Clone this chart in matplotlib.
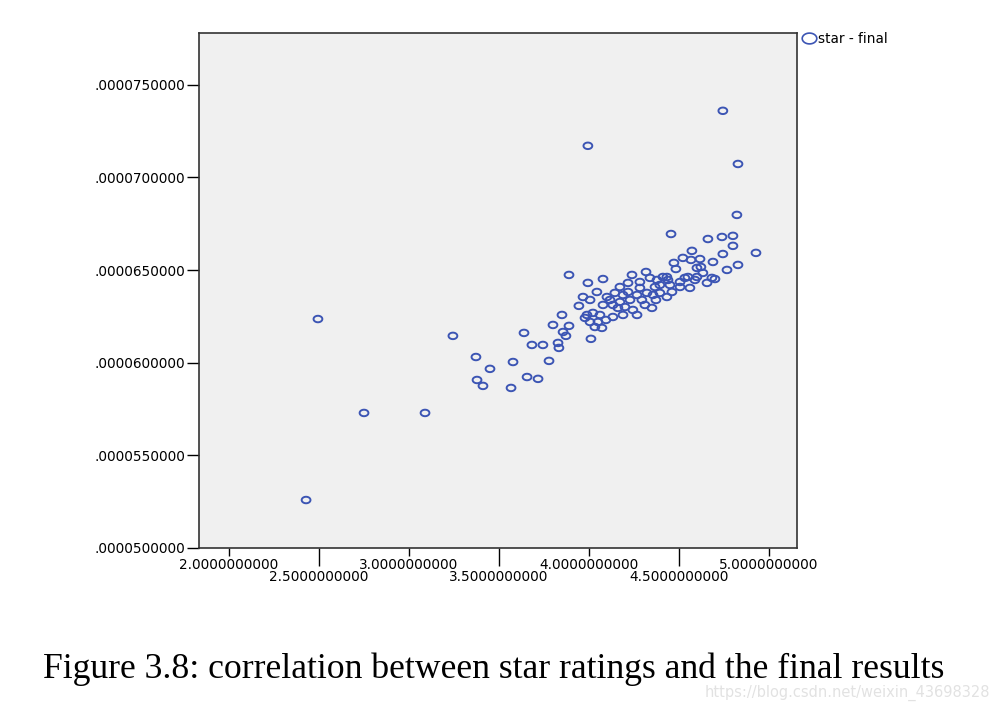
import numpy as np
import matplotlib.pyplot as plt
from matplotlib.path import Path
from matplotlib.ticker import FixedLocator, FuncFormatter
from matplotlib.lines import Line2D

# star rating vs final result
star = [2.428, 2.494, 2.750, 3.089, 3.244, 3.372, 3.378, 3.411, 3.450, 3.567,
        3.578, 3.639, 3.656, 3.683, 3.717, 3.744, 3.778, 3.800, 3.828, 3.833,
        3.850, 3.872, 3.889, 3.856, 3.889, 3.944, 3.967, 3.994, 3.994, 4.011,
        3.978, 4.006, 4.033, 4.050, 4.072, 3.989, 4.022, 4.061, 4.006, 4.044,
        4.078, 4.172, 4.144, 4.100, 4.117, 4.189, 4.217, 4.283, 4.322, 4.267,
        4.228, 4.172, 4.133, 4.078, 4.294, 4.356, 4.394, 4.433, 4.350, 4.267,
        4.189, 4.133, 4.239, 4.317, 4.339, 4.378, 4.394, 4.433, 4.450, 4.472,
        4.483, 4.456, 4.506, 4.533, 4.561, 4.589, 4.600, 4.522, 4.567, 4.572,
        4.617, 4.622, 4.633, 4.683, 4.700, 4.656, 4.600, 4.550, 4.506, 4.439,
        4.411, 4.661, 4.739, 4.800, 4.800, 4.928, 4.744, 4.689, 4.828, 4.767,
        4.744, 4.828, 4.822, 4.200, 4.244, 4.311, 4.372, 4.094, 4.161, 4.217,
        4.283, 4.367, 4.461]
final = [5.259e-5, 6.236e-5, 5.729e-5, 5.729e-5, 6.145e-5, 6.031e-5, 5.907e-5, 5.875e-5, 5.967e-5, 5.864e-5,
         6.004e-5, 6.161e-5, 5.923e-5, 6.096e-5, 5.913e-5, 6.096e-5, 6.010e-5, 6.204e-5, 6.107e-5, 6.080e-5,
         6.258e-5, 6.145e-5, 6.199e-5, 6.166e-5, 6.474e-5, 6.307e-5, 6.355e-5, 7.171e-5, 6.431e-5, 6.129e-5,
         6.242e-5, 6.220e-5, 6.193e-5, 6.220e-5, 6.188e-5, 6.258e-5, 6.269e-5, 6.258e-5, 6.339e-5, 6.382e-5,
         6.452e-5, 6.409e-5, 6.377e-5, 6.355e-5, 6.339e-5, 6.366e-5, 6.382e-5, 6.404e-5, 6.377e-5, 6.366e-5,
         6.339e-5, 6.328e-5, 6.312e-5, 6.312e-5, 6.339e-5, 6.366e-5, 6.377e-5, 6.355e-5, 6.296e-5, 6.258e-5,
         6.258e-5, 6.247e-5, 6.474e-5, 6.490e-5, 6.458e-5, 6.447e-5, 6.420e-5, 6.463e-5, 6.420e-5, 6.539e-5,
         6.506e-5, 6.695e-5, 6.409e-5, 6.458e-5, 6.404e-5, 6.447e-5, 6.512e-5, 6.566e-5, 6.555e-5, 6.604e-5,
         6.560e-5, 6.517e-5, 6.485e-5, 6.458e-5, 6.452e-5, 6.431e-5, 6.463e-5, 6.463e-5, 6.436e-5, 6.447e-5,
         6.463e-5, 6.668e-5, 6.679e-5, 6.685e-5, 6.631e-5, 6.593e-5, 6.587e-5, 6.544e-5, 6.528e-5, 6.501e-5,
         7.360e-5, 7.073e-5, 6.798e-5, 6.301e-5, 6.285e-5, 6.312e-5, 6.339e-5, 6.231e-5, 6.296e-5, 6.431e-5,
         6.436e-5, 6.409e-5, 6.382e-5]

x_major = [2.0, 3.0, 4.0, 5.0]
x_minor = [2.5, 3.5, 4.5]
y_ticks = [5.0e-5, 5.5e-5, 6.0e-5, 6.5e-5, 7.0e-5, 7.5e-5]

caption = "Figure 3.8: correlation between star ratings and the final results"
watermark = "https://blog.csdn.net/weixin_43698328"

blue = "#3c55b4"
plt.rcParams['font.family'] = ['DejaVu Sans']

# slightly squashed circle, like the SPSS marker in the picture
t = np.linspace(0, 2 * np.pi, 60)
ellipse = Path(np.column_stack([1.35 * np.cos(t), np.sin(t)]), closed=True)

fig = plt.figure(figsize=(10, 7.05), dpi=100)
ax = fig.add_axes([0.199, 0.2227, 0.598, 0.7305])
ax.set_facecolor("#f0f0f0")

ax.scatter(star, final, marker=ellipse, s=40, facecolors="none",
           edgecolors=blue, linewidths=1.4, zorder=3)

ax.set_xlim(1.833, 5.156)
ax.set_ylim(5.0e-5, 7.78e-5)

ax.xaxis.set_major_locator(FixedLocator(x_major))
ax.xaxis.set_minor_locator(FixedLocator(x_minor))
ax.xaxis.set_major_formatter(FuncFormatter(lambda v, p: f"{v:.10f}"))
ax.xaxis.set_minor_formatter(FuncFormatter(lambda v, p: "\n" + f"{v:.10f}"))
ax.yaxis.set_major_locator(FixedLocator(y_ticks))
ax.yaxis.set_major_formatter(FuncFormatter(lambda v, p: f"{v:.10f}".lstrip("0")))

ax.tick_params(axis="x", which="major", length=6, width=1, labelsize=9.8, pad=1)
ax.tick_params(axis="x", which="minor", length=13, width=1, labelsize=9.8, pad=-9)
ax.tick_params(axis="y", length=9, width=1, labelsize=9.8, pad=1)
for s in ax.spines.values():
    s.set_color("#333333")
    s.set_linewidth(1.2)

handle = Line2D([], [], marker=ellipse, linestyle="none", markerfacecolor="none",
                markeredgecolor=blue, markersize=10.5, markeredgewidth=1.2)
ax.legend([handle], ["star - final"], loc="upper left", bbox_to_anchor=(0.998, 1.012),
          frameon=False, fontsize=9.8, handletextpad=0.1, handlelength=1.1,
          borderaxespad=0)

fig.text(0.043, 0.038, caption, family="Liberation Serif", fontsize=25.7,
         ha="left", va="baseline")
fig.text(0.99, 0.011, watermark, fontsize=10.5, color="#e2e2e2", ha="right", va="baseline")

plt.savefig("out.png", dpi=100)
